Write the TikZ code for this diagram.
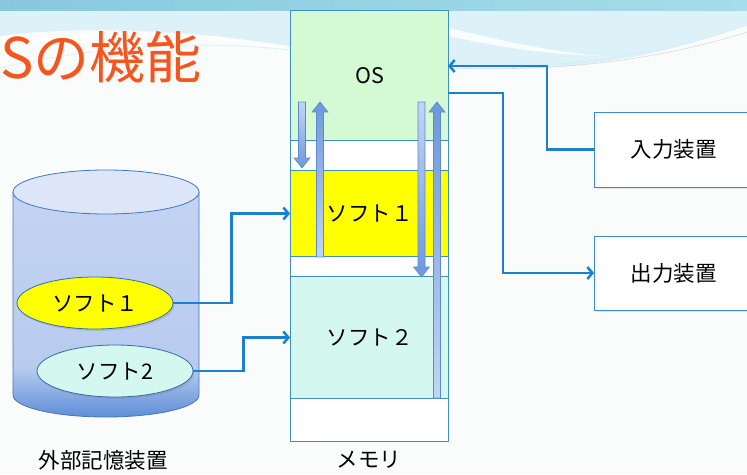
\documentclass[tikz,border=0pt]{standalone}
\usepackage{fontspec}
\setmainfont{Noto Sans CJK JP}
\usetikzlibrary{arrows.meta,shapes.geometric,shadows,calc}
\definecolor{bgTop}{HTML}{A4DEE8}
\definecolor{bgTopL}{HTML}{88C8DF}
\definecolor{bgLight}{HTML}{DCF2F8}
\definecolor{bgBase}{HTML}{FAFBFB}
\definecolor{titleC}{HTML}{F5561E}
\definecolor{memB}{HTML}{3F8FC5}
\definecolor{osF}{HTML}{D4FAD4}
\definecolor{yelF}{HTML}{FFFF00}
\definecolor{s2F}{HTML}{D4F8EF}
\definecolor{connC}{HTML}{1B80D0}
\definecolor{cylB}{HTML}{3F78B8}
\definecolor{cylTop}{HTML}{DCE6F8}
\definecolor{cylBodyT}{HTML}{C3D3F2}
\definecolor{cylBodyM}{HTML}{B8CBEF}
\definecolor{cylBodyB}{HTML}{5F8ED8}
\definecolor{ellB}{HTML}{2F6FAF}
\definecolor{blkL}{HTML}{C4D5F4}
\definecolor{blkD}{HTML}{6D98DC}
\definecolor{blkB}{HTML}{5B8AD0}
\definecolor{boxB}{HTML}{3A8CCC}
\pgfdeclareverticalshading{cylshade}{100bp}{color(0bp)=(cylBodyB); color(25bp)=(cylBodyB); color(36bp)=(cylBodyM); color(75bp)=(cylBodyT); color(100bp)=(cylBodyT)}
\newcommand{\blkdown}[3]{% x, tail y, tip y
  \pgfmathsetmacro{\hb}{#3-10}
  \path[draw=blkB, line width=0.6pt, top color=blkL, bottom color=blkD]
    (#1-3.5,#2) -- (#1-3.5,\hb) -- (#1-8,\hb) -- (#1,#3) -- (#1+8,\hb) -- (#1+3.5,\hb) -- (#1+3.5,#2) -- cycle;}
\newcommand{\blkup}[3]{% x, tail y, tip y
  \pgfmathsetmacro{\hb}{#3+10}
  \path[draw=blkB, line width=0.6pt, bottom color=blkL, top color=blkD]
    (#1-3.5,#2) -- (#1-3.5,\hb) -- (#1-8,\hb) -- (#1,#3) -- (#1+8,\hb) -- (#1+3.5,\hb) -- (#1+3.5,#2) -- cycle;}
\begin{document}
\begin{tikzpicture}[x=1pt,y=-1pt,
  lbl/.style={font=\fontsize{21.5}{25}\selectfont, text=black},
  memsec/.style={draw=memB, line width=1pt, anchor=north west, minimum width=158pt, inner sep=0pt, lbl},
  softell/.style={ellipse, draw=ellB, line width=0.8pt, minimum width=156pt, minimum height=52pt, inner sep=0pt, lbl, drop shadow={opacity=0.25, shadow xshift=1.5pt, shadow yshift=-2pt}},
  devbox/.style={draw=boxB, line width=1pt, fill=white, anchor=west, minimum width=158pt, inner sep=0pt, lbl, drop shadow={opacity=0.2, shadow xshift=1.5pt, shadow yshift=-2pt}},
  conn/.style={draw=connC, line width=2.5pt, -{Straight Barb[length=5pt,width=12pt]}}]
\useasboundingbox (0,0) rectangle (747,474);
% background
\fill[bgBase] (0,0) rectangle (747,474);
\fill[bgLight] (0,10) -- (747,10) -- (747,24)
  .. controls (680,50) and (600,68) .. (520,68)
  .. controls (420,66) and (380,55) .. (300,48)
  .. controls (200,30) and (80,25) .. (0,36) -- cycle;
\fill[white, opacity=0.8] (0,42) .. controls (100,25) and (220,30) .. (300,52)
  .. controls (220,36) and (100,32) .. (0,46) -- cycle;
\fill[white, opacity=0.85] (448,28) .. controls (500,40) and (540,50) .. (600,56)
  .. controls (540,54) and (490,45) .. (448,36) -- cycle;
\draw[white!60!bgTop, line width=0.8pt] (0,68) .. controls (100,45) and (200,40) .. (290,50);
\draw[white!50!bgTop, line width=0.8pt] (520,66) .. controls (620,62) and (690,45) .. (747,25);
\draw[white!70!gray, line width=0.6pt] (450,68) .. controls (560,72) and (660,60) .. (747,32);
\shade[left color=bgTopL, right color=bgTop] (0,0) rectangle (747,10.5);
% title
\node[anchor=base west, inner sep=0pt, text=titleC, font=\fontsize{56}{62}\selectfont] (title) at (0,78) {Sの機能};
% memory
\node[memsec, fill=white, minimum height=431pt] (mem) at (290,10) {};
\node[memsec, fill=osF, minimum height=130pt] (os) at (290,10) {OS};
\node[memsec, fill=white, minimum height=30pt] (g1) at (290,140) {};
\node[memsec, fill=yelF, minimum height=86pt] (m1) at (290,170) {ソフト１};
\node[memsec, fill=white, minimum height=20pt] (g2) at (290,256) {};
\node[memsec, fill=s2F, minimum height=122pt] (m2) at (290,276) {ソフト２};
\node[lbl] (memlbl) at (369,460) {メモリ};
% block arrows
\blkdown{302}{102}{168}
\blkup{320}{257}{102}
\blkdown{421.5}{102}{277}
\blkup{437}{398}{102}
% cylinder
\path[draw=cylB, line width=0.8pt, shading=cylshade]
  (13,192) -- (13,395) arc[start angle=180, end angle=0, x radius=93, y radius=22] -- (199,192) -- cycle;
\draw[cylB, line width=0.8pt, fill=cylTop] (106,192) ellipse [x radius=93, y radius=22];
\node[softell, fill=yelF] (e1) at (95,303) {ソフト１};
\node[softell, fill=s2F] (e2) at (115,371) {ソフト2};
\node[lbl] (cyllbl) at (103,460) {外部記憶装置};
% devices
\node[devbox, minimum height=75pt] (inp) at (594,149.5) {入力装置};
\node[devbox, minimum height=74pt] (outp) at (594,273) {出力装置};
\coordinate (osin) at (448,66);
\coordinate (osout) at (448,93);
% connectors
\draw[conn] (e1.east) -- ++(58,0) |- (m1.west);
\draw[conn] (e2.east) -- ++(50,0) |- (m2.west);
\draw[conn] (inp.west) -- ++(-47,0) |- (osin);
\draw[conn] (osout) -- ++(55,0) |- (outp.west);
\end{tikzpicture}
\end{document}
